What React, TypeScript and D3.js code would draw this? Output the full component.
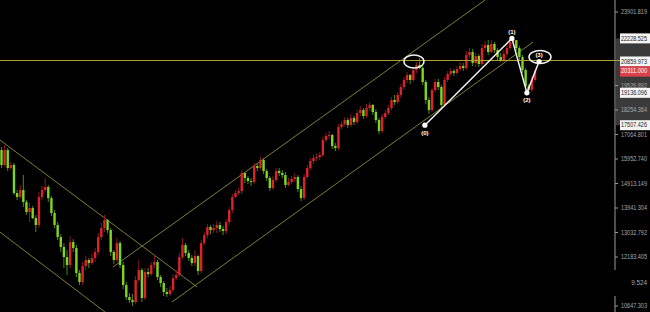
import React from "react";
import * as d3 from "d3";

const W = 650;
const H = 312;

// Daily candles: open of each bar is the previous close
const firstOpen = 16351;
const closes = [
  15691, 16351, 15562, 15691, 14527, 14368, 14647, 14172, 13787, 13940,
  13561, 13303, 14368, 14647, 14769, 14328, 13749, 13303, 12871, 12522,
  12182, 11917, 12695, 12487, 11657, 11372, 11884, 12082, 11983, 12149,
  12351, 12871, 13193, 13487, 13121, 12351, 12082, 12660, 11917, 11279,
  10913, 10823, 10763, 11435, 11754, 10883, 11689, 11625, 11917, 12016,
  11530, 11341, 11064, 11003, 11125, 11498, 11593, 12182, 12591, 12317,
  12149, 11983, 12216, 11722, 12660, 12942, 13230, 13121, 13193, 13303,
  13157, 13085, 13413, 13863, 14368, 14527, 14607, 15349, 15139, 15015,
  14973, 15648, 15562, 15908, 15433, 15139, 14728, 15056, 15433, 15349,
  15265, 14850, 14973, 15098, 15181, 14688, 14328, 15181, 15562, 15864,
  15995, 16039, 16128, 16807, 16993, 17040, 16532, 16441, 17419, 17564,
  17758, 17515, 17856, 17660, 18103, 18253, 17954, 18355, 18507, 18153,
  17758, 17228, 17905, 18103, 18355, 18763, 18660, 19023, 19446, 19824,
  20099, 19824, 20377, 20659, 20489, 19715, 18763, 18253, 19286, 19715,
  19446, 18507, 19824, 20154, 20321, 20210, 20433, 20602, 20489, 21235,
  21411, 20773, 21177, 20716, 21648, 21828, 21411, 21888, 21529, 21118,
  20945, 21293, 21648, 22008, 22120, 21648, 21118, 20377, 19499, 19300,
  19824, 20311,
];
const highs = [
  16486, 16577, 16441, 15821, 15777, 14647, 14850, 15265, 14250, 14133,
  14017, 13674, 14566, 14810, 15139, 14850, 14407, 13863, 13413, 12977,
  12660, 12419, 12906, 12800, 12591, 11754, 12016, 12216, 12149, 12283,
  12487, 13013, 13376, 13674, 13524, 13193, 12419, 12835, 12730, 12016,
  11372, 11034, 11003, 11562, 12082, 11819, 11819, 11819, 12016, 12249,
  12082, 11593, 11404, 11186, 11248, 11625, 11754, 12317, 12835, 12660,
  12419, 12249, 12419, 12249, 12765, 13049, 13339, 13303, 13339, 13450,
  13413, 13266, 13524, 13978, 14487, 14647, 14728, 15476, 15391, 15223,
  15139, 15777, 15777, 16039, 15995, 15519, 15223, 15223, 15562, 15562,
  15476, 15391, 15139, 15223, 15349, 15265, 14810, 15307, 15691, 15995,
  16128, 16217, 16261, 16947, 17134, 17228, 17087, 16669, 17564, 17709,
  17905, 17856, 18053, 17954, 18253, 18456, 18355, 18558, 18660, 18558,
  18304, 17856, 18053, 18253, 18507, 18918, 19023, 19180, 19607, 19988,
  20265, 20154, 20546, 20830, 21060, 20602, 19824, 18918, 19392, 19879,
  19879, 19553, 19988, 20321, 20489, 20433, 20602, 20830, 20773, 21470,
  21648, 21589, 21352, 21293, 21888, 22069, 22130, 22130, 22008, 21648,
  21352, 21529, 21888, 22191, 22228, 22130, 21768, 21235, 20489, 19607,
  20043, 20377,
];
const lows = [
  15562, 15605, 15433, 15476, 14447, 14250, 14289, 13978, 13674, 13413,
  13524, 13049, 13193, 14250, 14566, 14172, 13636, 13193, 12765, 12351,
  11819, 11593, 11819, 12351, 11530, 11279, 11279, 11754, 11819, 11917,
  12016, 12249, 12765, 13049, 13013, 12216, 11950, 12016, 11819, 11155,
  10823, 10734, 10646, 10705, 11372, 10763, 10823, 11530, 11562, 11819,
  11435, 11217, 10943, 10913, 10943, 11064, 11435, 11530, 12115, 12216,
  12049, 11884, 11884, 11593, 11657, 12591, 12835, 12977, 13013, 13013,
  13049, 12942, 12977, 13303, 13749, 14328, 14447, 14487, 14932, 14891,
  14810, 14891, 15433, 15476, 15307, 15015, 14607, 14647, 14973, 15223,
  15139, 14728, 14810, 14891, 14973, 14566, 14211, 14250, 15098, 15476,
  15734, 15864, 15908, 16039, 16715, 16854, 16396, 16306, 16351, 17324,
  17467, 17371, 17419, 17515, 17564, 17954, 17807, 17856, 18203, 18004,
  17612, 17087, 17134, 17807, 18004, 18253, 18507, 18558, 18866, 19286,
  19661, 19607, 19715, 20210, 20433, 19553, 18558, 18053, 18153, 19180,
  19286, 18355, 18456, 19715, 20043, 20043, 20099, 20321, 20321, 20377,
  21060, 20602, 20546, 20546, 20602, 21470, 21235, 21352, 21352, 20945,
  20830, 20830, 21118, 21529, 21888, 21470, 20945, 20210, 19339, 19136,
  19180, 19715,
];

// Price axis
const tickValues = [
  23901.819, 19526.892, 18254.364, 17064.801, 15952.74, 14913.149,
  13941.304, 13032.792, 12183.405, 10647.303,
];
const tickLabels = [
  "23901.819", "19526.892", "18254.364", "17064.801", "15952.740",
  "14913.149", "13941.304", "13032.792", "12183.405", "10647.303",
];
const markedPrices = [22228.525, 20859.973, 19136.096, 17507.426];
const markedLabels = ["22228.525", "20859.973", "19136.096", "17507.426"];
const lastPriceLabel = "20311.000";
const indicatorLabel = "9.524";

// Wave count (bar index, price)
const waveNames = ["(0)", "(1)", "(2)", "(3)"];
const waveIdx = [135.7, 163.6, 168.4, 172.3];
const wavePrices = [17507.426, 22228.525, 19136.096, 20859.973];

// Horizontal level and channel lines [idx1, price1, idx2, price2]
const levelPrice = 20859.973;
const channelLines = [
  [-0.5, 16807, 62.7, 11218],
  [-0.5, 13049, 33.2, 10471],
  [35.7, 11852, 155, 24704],
  [54.6, 10763, 170.4, 22008],
];

// Highlight ellipses [idx, price, rx, ry]
const ellipses = [
  [132.2, 20859.973, 10, 6.5],
  [172.6, 21118, 11, 6.5],
];

const UP = "#dc222b";
const DOWN = "#7fd621";
const UP_WICK = "#861b1e";
const DOWN_WICK = "#4f861b";
const LINE = "#807c35";
const LEVEL = "#b3a232";
const FONT = "'Liberation Sans', Arial, sans-serif";
const LABEL_W = 26;

export default function App() {
  const axisX = 615;
  const x = d3.scaleLinear().domain([0, closes.length - 1]).range([1.5, 535]);
  const y = d3
    .scaleLog()
    .domain([10647.303, 23901.819])
    .range([306, 12]);

  const opens = closes.map((c, i) => (i === 0 ? firstOpen : closes[i - 1]));
  const bodyW = 2.4;

  const wavePath = d3.line<number>()(
    waveIdx.map((v, i) => [x(v), y(wavePrices[i])] as [number, number])
  );

  const bandTop = y(d3.max(markedPrices) as number);
  const bandBot = y(d3.min(markedPrices) as number);
  const levelY = Math.round(y(levelPrice)) - 0.5;

  const axisText = (
    key: string | number,
    tx: number,
    ty: number,
    label: string,
    fill: string
  ) => (
    <text
      key={key}
      x={tx}
      y={ty}
      fill={fill}
      fontSize={6.3}
      fontFamily={FONT}
      textLength={LABEL_W}
      lengthAdjust="spacingAndGlyphs"
    >
      {label}
    </text>
  );

  return (
    <svg
      width={W}
      height={H}
      style={{ position: "fixed", left: 0, top: 0, background: "#000" }}
    >
      <defs>
        <clipPath id="plot">
          <rect x={0} y={0} width={axisX} height={H} />
        </clipPath>
      </defs>
      <rect x={0} y={0} width={W} height={H} fill="#000" />

      <g clipPath="url(#plot)">
        {channelLines.map((l, i) => (
          <line
            key={i}
            x1={x(l[0])}
            y1={y(l[1])}
            x2={x(l[2])}
            y2={y(l[3])}
            stroke={LINE}
            strokeWidth={1}
          />
        ))}

        {closes.map((c, i) => {
          const o = opens[i];
          const up = c >= o;
          const top = y(Math.max(o, c));
          const bot = y(Math.min(o, c));
          return (
            <g key={i}>
              <line
                x1={x(i)}
                x2={x(i)}
                y1={y(highs[i])}
                y2={y(lows[i])}
                stroke={up ? UP_WICK : DOWN_WICK}
                strokeWidth={1}
              />
              <rect
                x={x(i) - bodyW / 2}
                y={top}
                width={bodyW}
                height={Math.max(1, bot - top)}
                fill={up ? UP : DOWN}
              />
            </g>
          );
        })}

        <line
          x1={0}
          x2={620}
          y1={levelY}
          y2={levelY}
          stroke={LEVEL}
          strokeWidth={1}
          shapeRendering="crispEdges"
        />

        {ellipses.map((e, i) => (
          <ellipse
            key={i}
            cx={x(e[0])}
            cy={y(e[1])}
            rx={e[2]}
            ry={e[3]}
            fill="none"
            stroke="#f2f2f2"
            strokeWidth={1.5}
          />
        ))}
        <path d={wavePath || ""} fill="none" stroke="#f2f2f2" strokeWidth={1.5} />
        {waveIdx.map((v, i) => {
          const cx = x(v);
          const cy = y(wavePrices[i]);
          const below = i % 2 === 0;
          return (
            <g key={i}>
              <circle cx={cx} cy={cy} r={2.6} fill="#fff" />
              <text
                x={cx}
                y={below ? cy + 9.5 : cy - 4}
                fill="#fff"
                fontSize={6}
                fontWeight="bold"
                fontFamily={FONT}
                textAnchor="middle"
              >
                {waveNames[i]}
              </text>
            </g>
          );
        })}
      </g>

      {/* price scale */}
      <rect
        x={axisX + 1}
        y={bandTop}
        width={W - axisX}
        height={bandBot - bandTop}
        fill="#3a3a3a"
      />
      <line x1={axisX} x2={axisX} y1={0} y2={270} stroke="#9a9a9a" strokeWidth={1} />
      <line x1={axisX} x2={axisX} y1={296} y2={H} stroke="#9a9a9a" strokeWidth={1} />
      <line
        x1={axisX}
        x2={620}
        y1={levelY}
        y2={levelY}
        stroke={LEVEL}
        strokeWidth={1}
        shapeRendering="crispEdges"
      />
      {tickValues.map((v, i) => (
        <g key={i}>
          <line
            x1={axisX}
            x2={axisX + 3}
            y1={y(v)}
            y2={y(v)}
            stroke="#9a9a9a"
          />
          {axisText("t" + i, 621, y(v) + 2.3, tickLabels[i], "#a8a8a8")}
        </g>
      ))}
      <text
        x={W - 3}
        y={285}
        fill="#a8a8a8"
        fontSize={6.3}
        fontFamily={FONT}
        textAnchor="end"
      >
        {indicatorLabel}
      </text>
      {markedPrices.map((v, i) => (
        <g key={i}>
          <rect x={620} y={y(v) - 5} width={30} height={10} fill="#f4f4f4" />
          {axisText("m" + i, 621, y(v) + 2.3, markedLabels[i], "#222")}
        </g>
      ))}
      <rect
        x={620}
        y={y(closes[closes.length - 1]) - 5}
        width={30}
        height={10.5}
        fill="#d9424c"
      />
      {axisText(
        "last",
        621,
        y(closes[closes.length - 1]) + 2.3,
        lastPriceLabel,
        "#fff"
      )}
    </svg>
  );
}
